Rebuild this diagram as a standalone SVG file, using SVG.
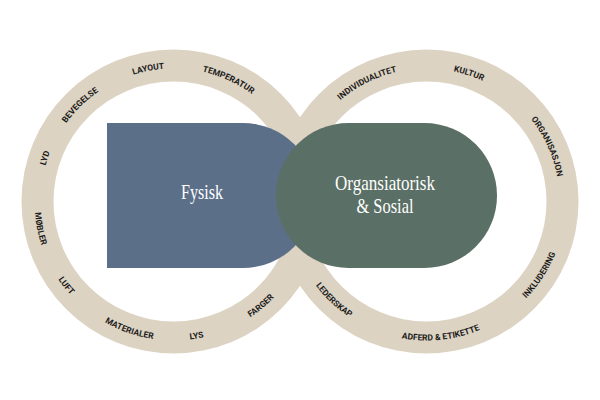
<svg xmlns="http://www.w3.org/2000/svg" xmlns:xlink="http://www.w3.org/1999/xlink" width="600" height="400" viewBox="0 0 600 400">
  <style>
    .ring { fill: #dcd3c2; fill-rule: evenodd; }
    .lbl { font-family: Roboto, "Liberation Sans", sans-serif; font-weight: 700; font-size: 8.5px; fill: #1c1c1c; text-anchor: middle; }
    .title { font-family: "Liberation Serif", "DejaVu Serif", serif; font-size: 21px; fill: #ffffff; text-anchor: middle; }
  </style>
  <defs>
    <path id="Lcw" d="M306.5,201.5 A133,133 0 1 1 40.5,201.5 A133,133 0 1 1 306.5,201.5"/>
    <path id="Lccw" d="M312.5,201.5 A139,139 0 1 0 34.5,201.5 A139,139 0 1 0 312.5,201.5"/>
    <path id="Rcw" d="M559.5,201.5 A133,133 0 1 1 293.5,201.5 A133,133 0 1 1 559.5,201.5"/>
    <path id="Rccw" d="M565.5,201.5 A139,139 0 1 0 287.5,201.5 A139,139 0 1 0 565.5,201.5"/>
  </defs>
  <rect width="600" height="400" fill="#ffffff"/>
  <g id="rings">
    <path class="ring" d="M325.5,201.5 A152,152 0 1 1 21.5,201.5 A152,152 0 1 1 325.5,201.5 Z M293.5,201.5 A120,120 0 1 0 53.5,201.5 A120,120 0 1 0 293.5,201.5 Z"/>
    <path class="ring" d="M578.5,201.5 A152,152 0 1 1 274.5,201.5 A152,152 0 1 1 578.5,201.5 Z M546.5,201.5 A120,120 0 1 0 306.5,201.5 A120,120 0 1 0 546.5,201.5 Z"/>
  </g>
  <g id="node-fysisk">
    <path d="M107,123 H243 A72.5,72.5 0 0 1 243,268 H107 Z" fill="#5c6f89"/>
    <text class="title" x="202" y="199" textLength="42" lengthAdjust="spacingAndGlyphs">Fysisk</text>
  </g>
  <g id="node-organisatorisk">
    <rect x="276" y="123" width="221" height="145" rx="72.5" fill="#5a6f65"/>
    <text class="title" x="385" y="190" textLength="100" lengthAdjust="spacingAndGlyphs">Organsiatorisk</text>
    <text class="title" x="385" y="213" textLength="57" lengthAdjust="spacingAndGlyphs">&amp; Sosial</text>
  </g>
  <g id="labels-fysisk">
    <text class="lbl"><textPath href="#Lcw" startOffset="72%">LAYOUT</textPath></text>
    <text class="lbl"><textPath href="#Lcw" startOffset="81.75%">TEMPERATUR</textPath></text>
    <text class="lbl"><textPath href="#Lcw" startOffset="62.75%">BEVEGELSE</textPath></text>
    <text class="lbl"><textPath href="#Lcw" startOffset="55.2%">LYD</textPath></text>
    <text class="lbl"><textPath href="#Lccw" startOffset="53.2%">MØBLER</textPath></text>
    <text class="lbl"><textPath href="#Lccw" startOffset="60.6%">LUFT</textPath></text>
    <text class="lbl"><textPath href="#Lccw" startOffset="69.7%">MATERIALER</textPath></text>
    <text class="lbl"><textPath href="#Lccw" startOffset="77.7%">LYS</textPath></text>
    <text class="lbl"><textPath href="#Lccw" startOffset="86.1%">FARGER</textPath></text>
  </g>
  <g id="labels-organisatorisk">
    <text class="lbl"><textPath href="#Rcw" startOffset="67.6%">INDIVIDUALITET</textPath></text>
    <text class="lbl"><textPath href="#Rcw" startOffset="80.1%">KULTUR</textPath></text>
    <text class="lbl"><textPath href="#Rcw" startOffset="93.2%">ORGANISASJON</textPath></text>
    <text class="lbl"><textPath href="#Rccw" startOffset="63%">LEDERSKAP</textPath></text>
    <text class="lbl"><textPath href="#Rccw" startOffset="76.7%">ADFERD &amp; ETIKETTE</textPath></text>
    <text class="lbl"><textPath href="#Rccw" startOffset="90.8%">INKLUDERING</textPath></text>
  </g>
</svg>
